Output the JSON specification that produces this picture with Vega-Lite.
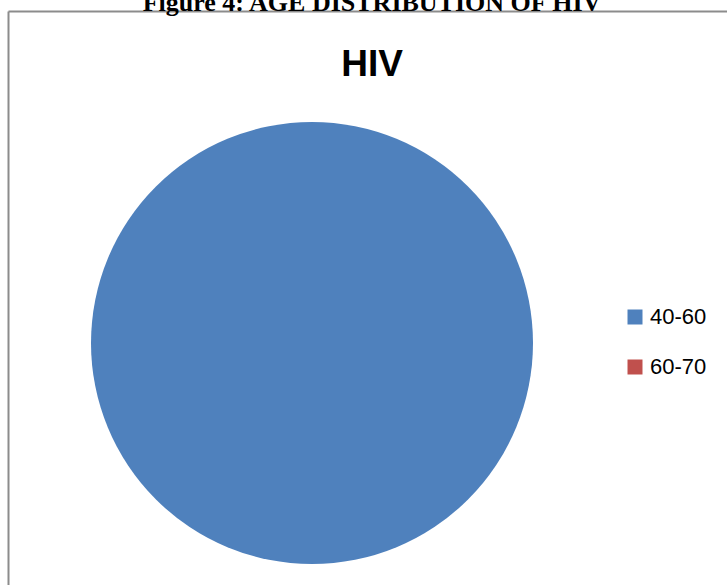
{
  "$schema": "https://vega.github.io/schema/vega-lite/v6.json",
  "autosize": {"type": "none"},
  "width": 608,
  "height": 664,
  "padding": {"left": 8, "top": 11, "right": 111, "bottom": -90},
  "background": "white",
  "title": {
    "text": "Figure 4: AGE DISTRIBUTION OF HIV",
    "subtitle": "HIV",
    "anchor": "middle",
    "dx": 60,
    "offset": -72,
    "font": "Liberation Serif",
    "fontSize": 26,
    "fontWeight": "bold",
    "color": "black",
    "subtitleFont": "Liberation Sans",
    "subtitleFontSize": 37,
    "subtitleFontWeight": "bold",
    "subtitleColor": "black",
    "subtitlePadding": 31
  },
  "data": {
    "values": [
      {"age": "40-60", "cases": 100},
      {"age": "60-70", "cases": 0}
    ]
  },
  "layer": [
    {
      "mark": {"type": "arc", "outerRadius": 221, "stroke": null},
      "encoding": {
        "theta": {"field": "cases", "type": "quantitative", "stack": true},
        "order": {"field": "age", "sort": "ascending"},
        "color": {
          "field": "age",
          "type": "nominal",
          "scale": {"domain": ["40-60", "60-70"], "range": ["#4F81BD", "#C0504D"]},
          "legend": {
            "title": null,
            "orient": "none",
            "legendX": 616,
            "legendY": 295,
            "padding": 0,
            "symbolType": "square",
            "symbolSize": 225,
            "symbolStrokeWidth": 0,
            "labelFont": "Liberation Sans",
            "labelFontSize": 22,
            "labelColor": "black",
            "labelOffset": 4,
            "rowPadding": 28
          }
        }
      }
    },
    {
      "mark": {"type": "point", "opacity": 0},
      "encoding": {
        "x": {
          "datum": 0,
          "type": "quantitative",
          "scale": {"domain": [0, 1], "range": [0, 730]},
          "axis": {"orient": "top", "domainColor": "#8c8c8c", "domainWidth": 2, "ticks": false, "labels": false, "title": null, "grid": false}
        },
        "y": {
          "datum": 0,
          "type": "quantitative",
          "scale": {"domain": [0, 1]},
          "axis": {"orient": "left", "domainColor": "#8c8c8c", "domainWidth": 2, "ticks": false, "labels": false, "title": null, "grid": false}
        }
      }
    }
  ],
  "config": {"view": {"stroke": null}}
}
